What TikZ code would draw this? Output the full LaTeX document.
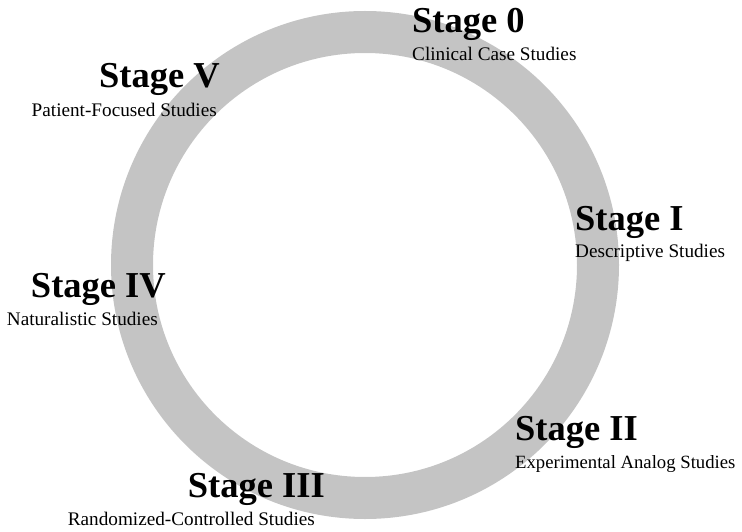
\documentclass[tikz,border=0pt]{standalone}
\usepackage{fontspec}
\setmainfont{Liberation Serif}
\definecolor{ringgray}{HTML}{C4C4C4}
\tikzset{
  stagetitle/.style={inner sep=0pt, font=\fontsize{36.5}{40}\selectfont\bfseries},
  stagesub/.style={inner sep=0pt, font=\fontsize{19.2}{22}\selectfont},
}
\begin{document}
\begin{tikzpicture}[x=1pt,y=-1pt]
\useasboundingbox (0,0) rectangle (742,532);
\fill[ringgray, even odd rule] (365,265) circle (254pt) (365,265) circle (212pt);
% Stage 0
\node[stagetitle, anchor=base west] (t0) at (412,33) {Stage 0};
\node[stagesub, anchor=base west] (s0) at (412,61) {Clinical Case Studies};
% Stage I
\node[stagetitle, anchor=base west] (t1) at (575,230) {Stage I};
\node[stagesub, anchor=base west] (s1) at (575,257) {Descriptive Studies};
% Stage II
\node[stagetitle, anchor=base west] (t2) at (515,440) {Stage II};
\node[stagesub, anchor=base west, font=\fontsize{18.7}{22}\selectfont] (s2) at (515,468) {Experimental Analog Studies};
% Stage III
\node[stagetitle, anchor=base east] (t3) at (325,497) {Stage III};
\node[stagesub, anchor=base east] (s3) at (315,525) {Randomized-Controlled Studies};
% Stage IV
\node[stagetitle, anchor=base east] (t4) at (166,297) {Stage IV};
\node[stagesub, anchor=base east] (s4) at (158,325) {Naturalistic Studies};
% Stage V
\node[stagetitle, anchor=base east] (t5) at (220,88) {Stage V};
\node[stagesub, anchor=base east] (s5) at (217,117) {Patient-Focused Studies};
\end{tikzpicture}
\end{document}
